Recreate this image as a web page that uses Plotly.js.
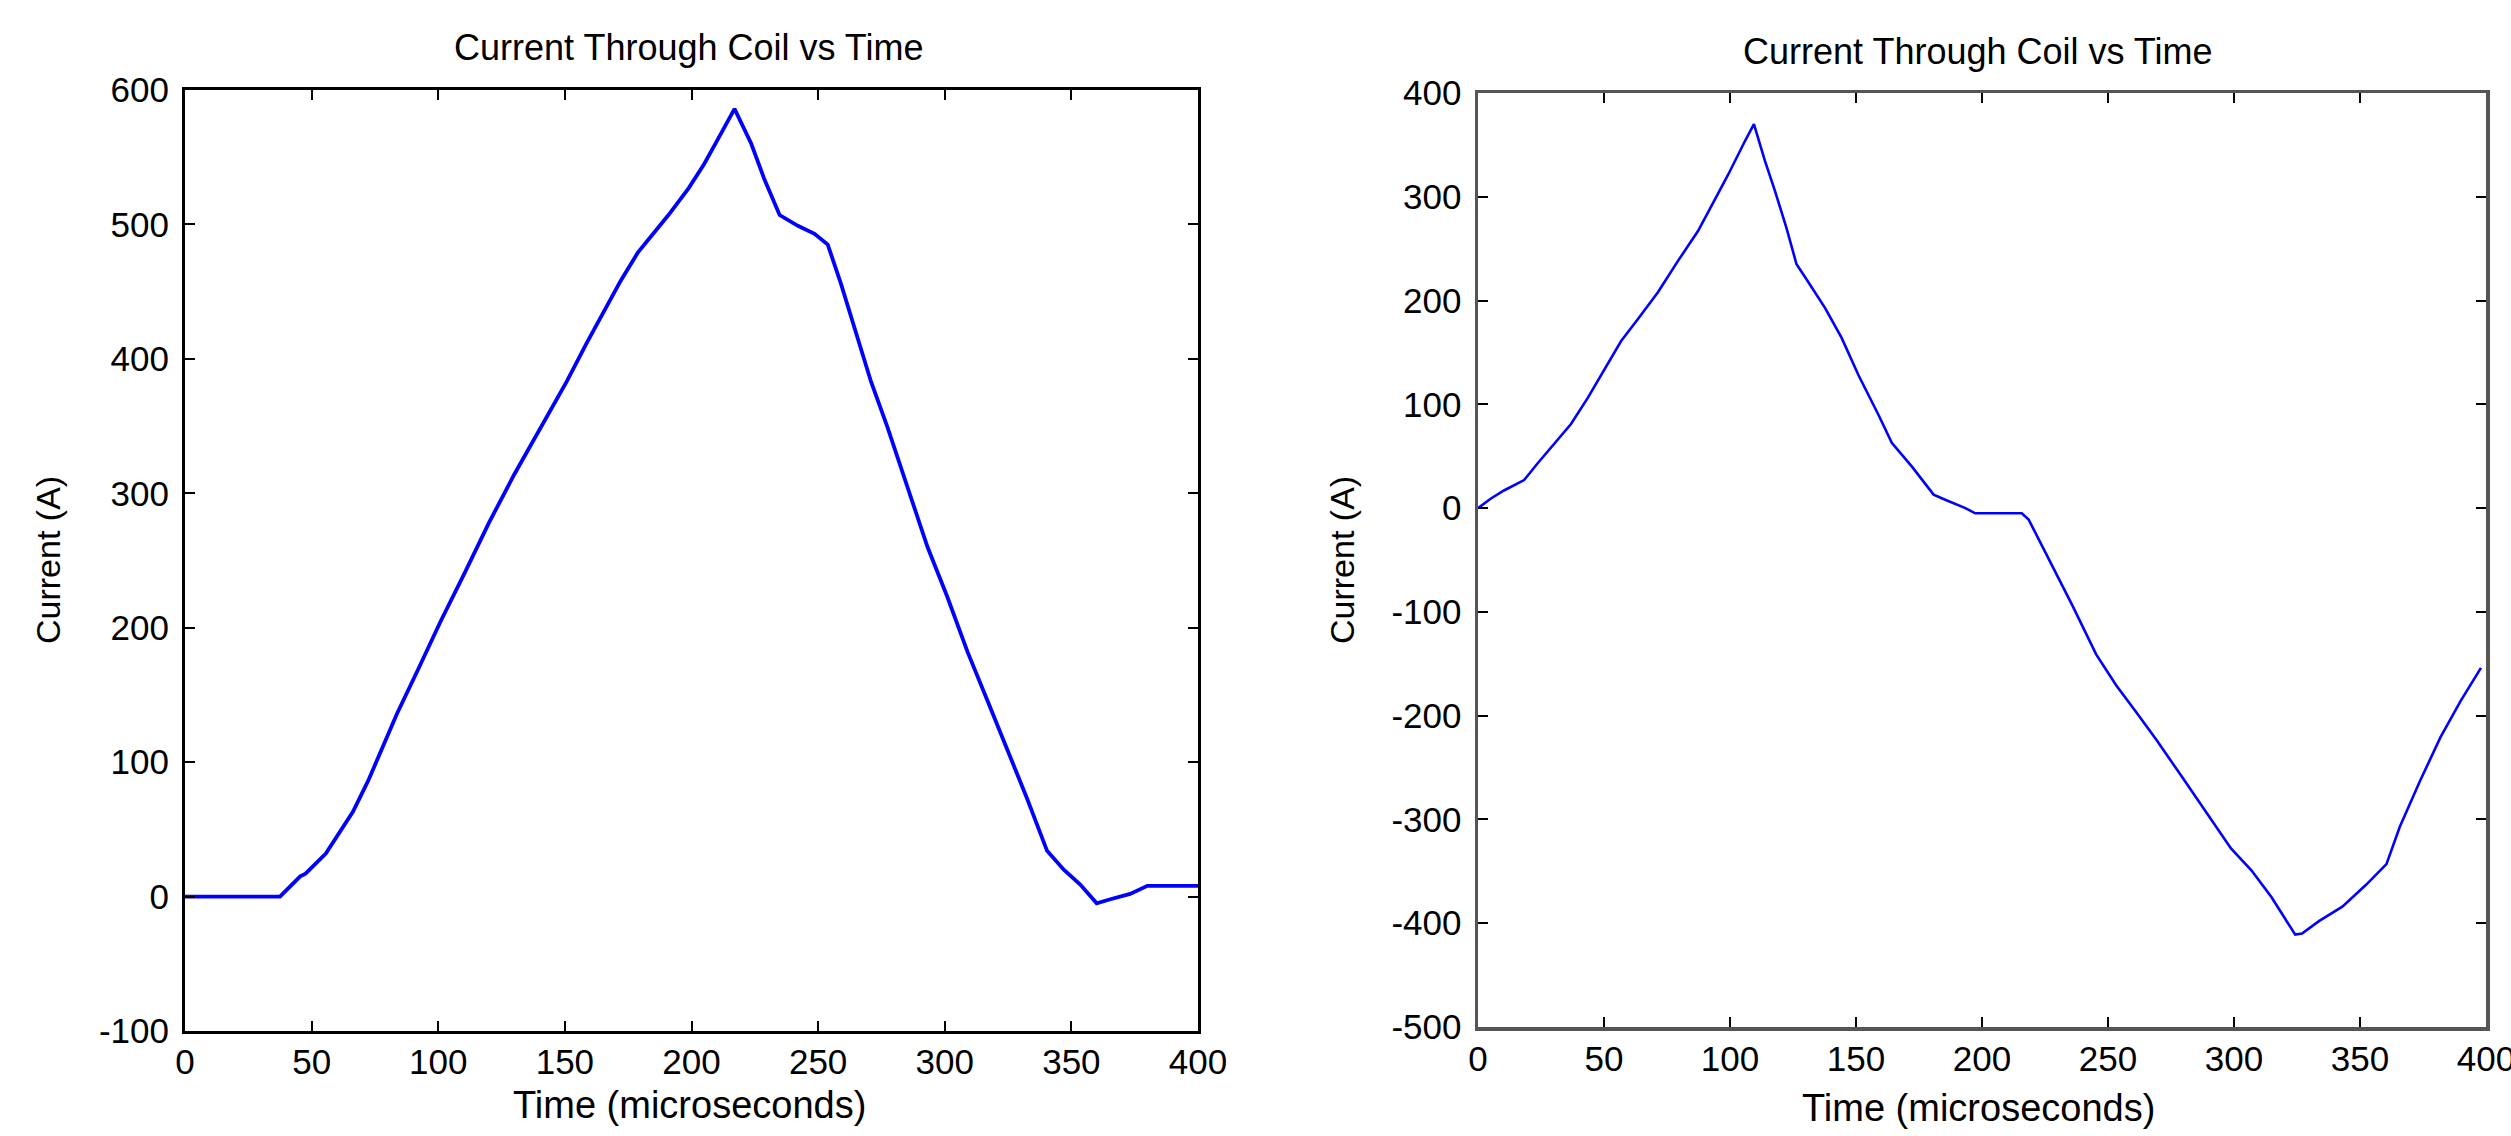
<!DOCTYPE html>
<html>
<head>
<meta charset="utf-8">
<script src="https://cdn.plot.ly/plotly-3.0.1.min.js"></script>
<style>
  html, body { margin: 0; padding: 0; background: #ffffff; }
  #chart { width: 2511px; height: 1136px; }
</style>
</head>
<body>
<div id="chart"></div>
<script>
// ---- Data ----
const chartTitle = "Current Through Coil vs Time";
const xLabel = "Time (microseconds)";
const yLabel = "Current (A)";

// Left panel
const timeLeft = [0, 37.5, 45.5, 47.6, 55.6, 59.6, 66.3, 72.3, 77, 83.7, 91.8, 101, 110.5, 120, 130, 141.3, 150.7, 158.7, 165.4, 172, 178.8, 183.5, 190.9, 198.9, 205, 210, 217, 223.6, 228.9, 234.8, 242, 248.6, 253.8, 259, 264.3, 270.9, 277.4, 285.3, 293.2, 301, 309, 316.8, 324.7, 332.5, 340.4, 347, 353.5, 360, 365.4, 373.2, 380, 400];
const currentLeft = [0, 0, 15, 17, 32, 44, 63, 86, 106, 136, 168, 205, 241, 278, 314, 351, 383, 412, 435, 458, 479, 490, 507, 527, 545, 562, 586, 560, 533, 507, 499, 493, 485, 456, 424, 383, 349, 305, 260, 223, 182, 146, 109, 73, 34, 20, 9, -5, -2, 2, 8, 8];

// Right panel
const timeRight = [0, 5, 10.3, 18.3, 23.6, 31.6, 36.9, 43.5, 50.1, 56.8, 63.4, 71.4, 79.3, 87.3, 92.6, 99.2, 105.8, 109.5, 113.8, 117.8, 122.4, 126.4, 129.7, 137.7, 144.3, 151, 158.9, 164.2, 172.2, 180.8, 185.4, 193.4, 197.3, 215.8, 218.5, 226.5, 235.9, 245.3, 253.3, 261.3, 269.4, 278.8, 289.5, 298.8, 306.9, 314.9, 324.3, 327, 333.7, 343, 352.4, 360.5, 365.8, 373.8, 381.9, 389.9, 398];
const currentRight = [0, 9, 17, 27, 43, 66, 81, 106, 134, 161, 182, 208, 238, 267, 291, 321, 353, 370, 335, 306, 270, 235, 223, 193, 164, 128, 90, 63, 40, 13, 8, 0, -5, -5, -11, -49, -94, -141, -171, -197, -224, -257, -295, -328, -349, -375, -411, -410, -398, -384, -363, -343, -307, -263, -221, -186, -154];

const xTicks = [0, 50, 100, 150, 200, 250, 300, 350, 400];
const xTickText = ["0", "50", "100", "150", "200", "250", "300", "350", "400"];
const yTicksLeft = [-100, 0, 100, 200, 300, 400, 500, 600];
const yTickTextLeft = ["-100", "0", "100", "200", "300", "400", "500", "600"];
const yTicksRight = [-500, -400, -300, -200, -100, 0, 100, 200, 300, 400];
const yTickTextRight = ["-500", "-400", "-300", "-200", "-100", "0", "100", "200", "300", "400"];

// ---- Figure ----
const W = 2511, H = 1136;
const px = v => v / W;
const py = v => 1 - v / H;

const FONT = "Liberation Sans, Arial, sans-serif";
const TICK_SIZE = 35;
const TITLE_SIZE = 36;
const LABEL_SIZE = 38;

const traces = [
  { x: timeLeft, y: currentLeft, type: "scatter", mode: "lines",
    line: { color: "#0000ff", width: 3.8 }, xaxis: "x", yaxis: "y", hoverinfo: "skip" },
  { x: timeRight, y: currentRight, type: "scatter", mode: "lines",
    line: { color: "#0000ff", width: 2.6 }, xaxis: "x2", yaxis: "y2", hoverinfo: "skip" }
];

function axisCommon(extra) {
  return Object.assign({
    showgrid: false, zeroline: false, showline: true, mirror: "ticks",
    ticks: "inside", ticklen: 10, tickwidth: 2, tickcolor: "#000",
    tickmode: "array", ticklabeloverflow: "allow",
    tickfont: { family: FONT, size: TICK_SIZE, color: "#000" },
    fixedrange: true
  }, extra);
}

const layout = {
  width: W, height: H,
  margin: { l: 0, r: 0, t: 0, b: 0, pad: 0 },
  paper_bgcolor: "#ffffff", plot_bgcolor: "#ffffff",
  showlegend: false,
  xaxis: axisCommon({ domain: [px(185), px(1198)], range: [0, 400],
    tickvals: xTicks, ticktext: xTickText,
    linecolor: "#000", linewidth: 3, anchor: "y", ticklabelstandoff: -2 }),
  yaxis: axisCommon({ domain: [py(1031), py(90)], range: [-100, 600],
    tickvals: yTicksLeft, ticktext: yTickTextLeft,
    linecolor: "#000", linewidth: 3, anchor: "x", ticklabelstandoff: 6 }),
  xaxis2: axisCommon({ domain: [px(1478), px(2486)], range: [0, 400],
    tickvals: xTicks, ticktext: xTickText,
    linecolor: "#555", linewidth: 3.5, anchor: "y2", ticklabelstandoff: -2 }),
  yaxis2: axisCommon({ domain: [py(1027), py(93)], range: [-500, 400],
    tickvals: yTicksRight, ticktext: yTickTextRight,
    linecolor: "#555", linewidth: 3.5, anchor: "x2", ticklabelstandoff: 6 }),
  annotations: [
    { text: chartTitle, xref: "paper", yref: "paper", x: px(689), y: py(48),
      xanchor: "center", yanchor: "middle", showarrow: false,
      font: { family: FONT, size: TITLE_SIZE, color: "#000" } },
    { text: chartTitle, xref: "paper", yref: "paper", x: px(1978), y: py(51),
      xanchor: "center", yanchor: "middle", showarrow: false,
      font: { family: FONT, size: TITLE_SIZE, color: "#000" } },
    { text: xLabel, xref: "paper", yref: "paper", x: px(689), y: py(1105),
      xanchor: "center", yanchor: "middle", showarrow: false,
      font: { family: FONT, size: LABEL_SIZE, color: "#000" } },
    { text: xLabel, xref: "paper", yref: "paper", x: px(1978), y: py(1108),
      xanchor: "center", yanchor: "middle", showarrow: false,
      font: { family: FONT, size: LABEL_SIZE, color: "#000" } },
    { text: yLabel, xref: "paper", yref: "paper", x: px(48), y: py(560),
      xanchor: "center", yanchor: "middle", textangle: -90, showarrow: false,
      font: { family: FONT, size: 34, color: "#000" } },
    { text: yLabel, xref: "paper", yref: "paper", x: px(1342), y: py(560),
      xanchor: "center", yanchor: "middle", textangle: -90, showarrow: false,
      font: { family: FONT, size: 34, color: "#000" } }
  ]
};

Plotly.newPlot("chart", traces, layout, { staticPlot: true, displayModeBar: false });
</script>
</body>
</html>
